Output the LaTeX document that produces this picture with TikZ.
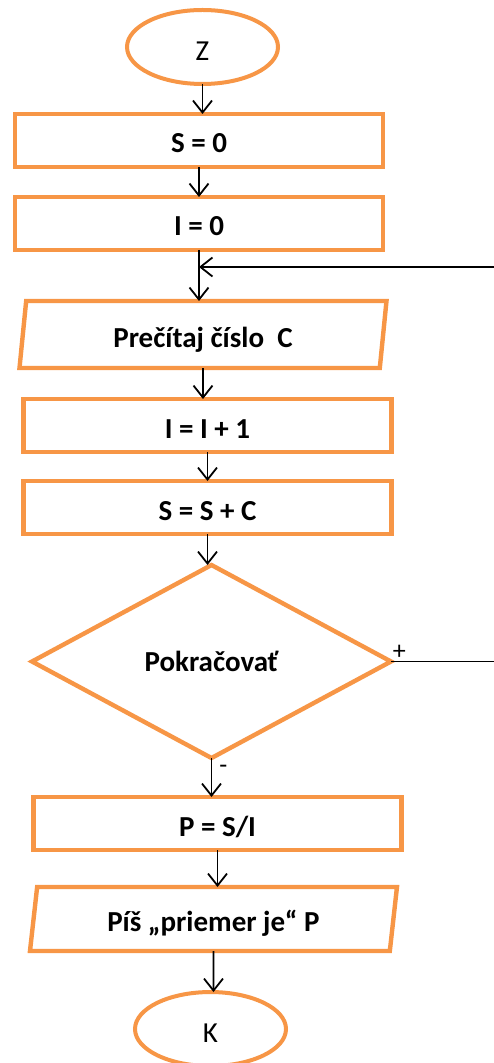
\documentclass[tikz,border=0pt]{standalone}
\usepackage{fontspec}
\setmainfont{Carlito}
\usetikzlibrary{shapes.geometric, arrows.meta, positioning}
\definecolor{boxorange}{RGB}{247,150,70}
\tikzset{
  terminal/.style={ellipse, draw=boxorange, line width=2pt, fill=white,
                   minimum width=75.5pt, minimum height=37pt, inner sep=0pt, outer sep=0pt,
                   text height=13.5pt, text depth=0pt,
                   font=\fontsize{14.5}{17}\selectfont},
  process/.style={rectangle, draw=boxorange, line width=2.2pt, fill=white,
                  minimum width=184pt, minimum height=26.5pt, inner sep=0pt, outer sep=0pt,
                  text height=12.5pt, text depth=0pt,
                  font=\fontsize{14.5}{17}\selectfont\bfseries},
  io/.style={trapezium, trapezium left angle=75, trapezium right angle=105,
             trapezium stretches body, draw=boxorange, line width=2.2pt, fill=white,
             minimum width=183.5pt, minimum height=33.5pt, inner sep=0pt, outer sep=0pt,
             text height=12.5pt, text depth=0pt,
             font=\fontsize{14.5}{17}\selectfont\bfseries},
  decision/.style={diamond, draw=boxorange, line width=2.2pt, fill=white,
                   minimum width=179.5pt, minimum height=96.5pt, inner sep=0pt, outer sep=0pt,
                   font=\fontsize{14.5}{17}\selectfont\bfseries},
  arrow/.style={-{Straight Barb[length=6pt,width=9.5pt]}, line width=0.9pt, black},
  sign/.style={font=\fontsize{13}{15}\selectfont, inner sep=0.5pt},
}

\begin{document}
\begin{tikzpicture}[x=0.5pt, y=-0.5pt, node distance=15pt]
  \useasboundingbox (0,0) rectangle (493,1063);

  % Main vertical chain
  \node[terminal] (start) at (202.5,47) {Z};
  \node[process, below=15pt of start, xshift=-1.75pt] (s0) {S = 0};
  \node[process, below=15pt of s0] (i0) {I = 0};
  \node[io, below=25.5pt of i0, xshift=2pt] (read) {Prečítaj číslo~~C};
  \node[process, below=15.5pt of read, xshift=2.25pt] (inc) {I = I + 1};
  \node[process, below=14.5pt of inc] (sum) {S = S + C};
  \node[decision, below=15.5pt of sum, xshift=2pt] (cont) {Pokračovať};
  \node[process, below=19.5pt of cont, xshift=3pt] (avg) {P = S/I};
  \node[io, below=18.5pt of avg, xshift=-2pt, minimum height=32pt,
        trapezium left angle=74, trapezium right angle=106] (write) {Píš „priemer je“ P};
  \node[terminal, below=20.5pt of write, xshift=-1.5pt] (stop) {K};

  % Loop entry point
  \coordinate[below=8.5pt of i0.south] (loop);

  % Main flow arrows
  \draw[arrow] (start) -- (start |- s0.north);
  \draw[arrow] (s0) -- (s0 |- i0.north);
  \draw[arrow] (i0) -- (i0 |- read.north);
  \draw[arrow] (read) -- (read |- inc.north);
  \draw[arrow] (inc) -- (inc |- sum.north);
  \draw[arrow] (sum) -- (sum |- cont.north);
  \draw[arrow] (cont) -- node[sign, pos=0.3, right=3pt]{-} (cont |- avg.north);
  \draw[arrow] (avg) -- (avg |- write.north);
  \draw[arrow] (write) -- (write |- stop.north);

  % Back to reading the next number
  \draw[arrow] (cont.east) node[sign, above right]{+} -- ++(60pt,0) |- (loop);

\end{tikzpicture}
\end{document}
